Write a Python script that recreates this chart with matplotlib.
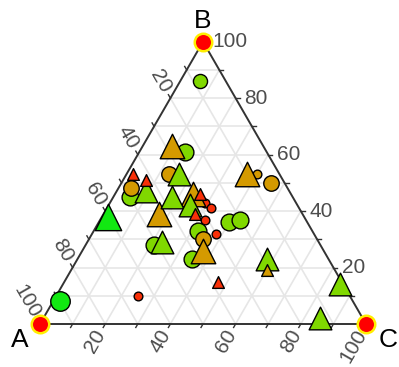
import numpy as np
import matplotlib.pyplot as plt

# ternary compositions (percent) of each sample
comp_a = [8, 28, 25, 34, 31, 45, 42, 48, 50, 44, 10, 7, 4, 60, 37, 44, 30, 28, 33, 28,
          27, 33, 31, 35, 30, 24, 20, 35, 37, 42, 51, 48, 19, 21, 38, 1, 13, 65, 90]
comp_b = [86, 63, 61, 53, 53, 53, 51, 48, 45, 47, 53, 53, 50, 38, 45, 39, 46, 46, 42, 43,
          41, 39, 37, 33, 32, 36, 37, 30, 26, 23, 28, 29, 23, 19, 15, 14, 2, 10, 8]
comp_c = [6, 9, 14, 13, 16, 2, 7, 4, 5, 9, 37, 40, 46, 2, 18, 17, 24, 26, 25, 29,
          32, 28, 32, 32, 38, 40, 43, 35, 37, 35, 21, 23, 58, 60, 47, 85, 85, 25, 2]
kind = ["o", "^", "o", "o", "^", "^", "^", "o", "o", "^", "^", "o", "o", "^", "^", "^", "^", "^", "^", "o",
        "o", "^", "o", "o", "o", "o", "o", "o", "^", "o", "o", "^", "^", "^", "^", "^", "^", "o", "o"]
group = [3, 2, 3, 2, 3, 1, 1, 2, 3, 3, 2, 2, 2, 4, 3, 2, 2, 1, 3, 1,
         1, 1, 1, 3, 1, 3, 3, 2, 2, 3, 3, 3, 3, 2, 1, 3, 3, 1, 4]
weight = [3, 4.5, 4, 3.5, 4, 1, 1, 3.5, 4, 4, 4.5, 1, 3.5, 5, 4, 4.5, 4.5, 1, 4, 1,
          1, 1, 1, 4, 1, 4, 4, 3.5, 4.5, 4, 4, 4, 4, 1, 1, 4, 4, 1, 5]

# pure end members
pure_a = [100, 0, 0]
pure_b = [0, 100, 0]
pure_c = [0, 0, 100]

group_colors = {1: "#F83008", 2: "#D49A00", 3: "#80D800", 4: "#12E812"}
axis_names = ["A", "B", "C"]

SQ = np.sqrt(3) / 2
PX = 1 / 326  # one pixel in triangle units


def tern_xy(a, b, c):
    a, b, c = np.asarray(a, float), np.asarray(b, float), np.asarray(c, float)
    s = a + b + c
    b, c = b / s, c / s
    return c + b / 2, b * SQ


def marker_area(w, m):
    d = (6.0 + 2.7 * w) * 0.72  # diameter in points
    if m == "^":
        d *= 1.35
    return d ** 2


fig = plt.figure(figsize=(3.99, 3.67), dpi=100)
ax = fig.add_axes([0, 0, 1, 1])
ax.set_xlim(-40 * PX, 359 * PX)
ax.set_ylim(-43 * PX, 324 * PX)
ax.axis("off")

# grid lines every 10 %
for v in np.arange(0.1, 1.0, 0.1):
    for p, q in [((v, 1 - v, 0), (v, 0, 1 - v)),
                 ((1 - v, v, 0), (0, v, 1 - v)),
                 ((1 - v, 0, v), (0, 1 - v, v))]:
        x, y = tern_xy(*zip(p, q))
        ax.plot(x, y, color="#E6E6E6", lw=1.2, zorder=1)

# outline
ox, oy = tern_xy([1, 0, 0, 1], [0, 1, 0, 0], [0, 0, 1, 0])
ax.plot(ox, oy, color="#333333", lw=1.4, zorder=2, solid_capstyle="round")

tick_len = 4 * PX
lab_off = 8 * PX
lab_style = dict(fontsize=15, color="#4D4D4D", family=["Liberation Sans", "DejaVu Sans"])
for v in range(10, 101, 10):
    f = v / 100
    # bottom axis: C
    x0, y0 = tern_xy(1 - f, 0, f)
    d = np.array([-0.5, -SQ])
    ax.plot([x0, x0 + d[0] * tick_len], [y0, y0 + d[1] * tick_len], color="#333333", lw=1, zorder=2)
    if v % 20 == 0:
        ax.text(x0 + d[0] * lab_off, y0 + d[1] * lab_off, str(v), rotation=60,
                rotation_mode="anchor", ha="right", va="center", **lab_style)
    # left axis: A
    x0, y0 = tern_xy(f, 1 - f, 0)
    d = np.array([-0.5, SQ])
    ax.plot([x0, x0 + d[0] * tick_len], [y0, y0 + d[1] * tick_len], color="#333333", lw=1, zorder=2)
    if v % 20 == 0:
        ax.text(x0 + d[0] * lab_off, y0 + d[1] * lab_off, str(v), rotation=-60,
                rotation_mode="anchor", ha="right", va="center", **lab_style)
    # right axis: B
    x0, y0 = tern_xy(0, f, 1 - f)
    ax.plot([x0, x0 + tick_len], [y0, y0], color="#333333", lw=1, zorder=2)
    if v % 20 == 0:
        ax.text(x0 + lab_off + 1 * PX, y0, str(v), ha="left", va="center", **lab_style)

# vertex titles
name_style = dict(fontsize=19, color="black", family=["Liberation Sans", "DejaVu Sans"],
                  ha="center", va="center")
ax.text(-20 * PX, -16 * PX, axis_names[0], **name_style)
ax.text(0.5, 303 * PX, axis_names[1], **name_style)
ax.text(348 * PX, -16 * PX, axis_names[2], **name_style)

# samples: circles first, then triangles, larger ones underneath
xs, ys = tern_xy(comp_a, comp_b, comp_c)
order = sorted(range(len(xs)), key=lambda i: (kind[i] == "^", -weight[i]))
z = 3
for i in order:
    ax.scatter(xs[i], ys[i], s=marker_area(weight[i], kind[i]), marker=kind[i],
               c=group_colors[group[i]], edgecolors="black", linewidths=1.0, zorder=z)
    z += 0.01

vx, vy = tern_xy(pure_a, pure_b, pure_c)
ax.scatter(vx, vy, s=12.6 ** 2, c="#FF0000", edgecolors="#FFEE00", linewidths=1.8, zorder=5)

fig.savefig("out.png", dpi=100)
